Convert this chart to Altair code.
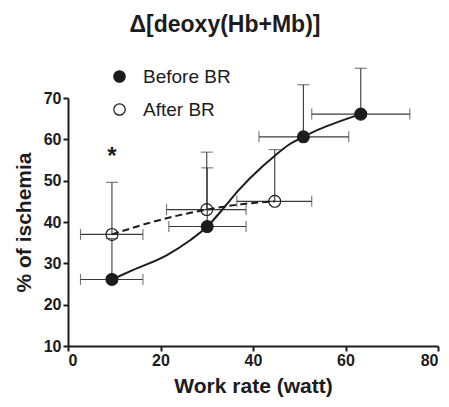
import altair as alt
import pandas as pd

# ---- data ----
groups = ["Before BR", "After BR"]

before_x = [9.5, 30.1, 50.9, 63.3]
before_y = [26.1, 38.9, 60.6, 66.1]
before_xlo = [2.7, 21.8, 41.3, 52.7]
before_xhi = [16.2, 38.5, 60.7, 73.9]
before_yhi = [36.0, 53.1, 73.2, 77.2]

after_x = [9.5, 30.0, 44.7]
after_y = [37.0, 43.0, 45.0]
after_xlo = [2.7, 21.3, 36.5]
after_xhi = [16.2, 38.5, 52.7]
after_yhi = [49.6, 56.9, 57.5]

# fitted curves
fit_before_x = [9.5, 14.1, 21.4, 26.4, 30.1, 33.3, 36.9, 41.9, 44.8, 47.5, 50.9, 54.0, 57.4, 63.3]
fit_before_y = [26.1, 28.4, 32.0, 35.6, 38.9, 42.9, 47.7, 53.3, 56.1, 58.5, 60.6, 62.3, 63.8, 66.1]
fit_after_x = [9.5, 19.9, 30.0, 37.5, 44.7]
fit_after_y = [37.0, 40.5, 43.0, 44.3, 45.0]

star_x = [9.5]
star_y = [56.9]
star_text = ["*"]

FONT = "Liberation Sans"
INK = "#1c1c1c"
BAR = "#3a3a3a"

pts = pd.DataFrame({
    "x": before_x + after_x,
    "y": before_y + after_y,
    "xlo": before_xlo + after_xlo,
    "xhi": before_xhi + after_xhi,
    "yhi": before_yhi + after_yhi,
    "group": [groups[0]] * len(before_x) + [groups[1]] * len(after_x),
})
fit_b = pd.DataFrame({"x": fit_before_x, "y": fit_before_y})
fit_a = pd.DataFrame({"x": fit_after_x, "y": fit_after_y})
star = pd.DataFrame({"x": star_x, "y": star_y, "t": star_text})

xs = alt.Scale(domain=[0, 80], nice=False, zero=False)
ys = alt.Scale(domain=[10, 70], nice=False, zero=False)

X = alt.X("x:Q", scale=xs, title="Work rate (watt)",
          axis=alt.Axis(values=[0, 20, 40, 60, 80], titlePadding=7, labelPadding=1))
Y = alt.Y("y:Q", scale=ys, title="% of ischemia",
          axis=alt.Axis(values=[10, 20, 30, 40, 50, 60, 70], titlePadding=9, labelPadding=2))

base = alt.Chart(pts)

vbar = base.mark_rule(color=BAR, strokeWidth=1.1, clip=False).encode(
    x=X, y=Y, y2="yhi:Q")
hbar = base.mark_rule(color=BAR, strokeWidth=1.1, clip=False).encode(
    x=alt.X("xlo:Q", scale=xs), x2="xhi:Q", y=alt.Y("y:Q", scale=ys))
cap_lo = base.mark_tick(color=BAR, thickness=1.1, size=11, orient="vertical", clip=False).encode(
    x=alt.X("xlo:Q", scale=xs), y=alt.Y("y:Q", scale=ys))
cap_hi = base.mark_tick(color=BAR, thickness=1.1, size=11, orient="vertical", clip=False).encode(
    x=alt.X("xhi:Q", scale=xs), y=alt.Y("y:Q", scale=ys))
cap_top = base.mark_tick(color=BAR, thickness=1.1, size=12, orient="horizontal", clip=False).encode(
    x=alt.X("x:Q", scale=xs), y=alt.Y("yhi:Q", scale=ys))

line_b = alt.Chart(fit_b).mark_line(color=INK, strokeWidth=2, interpolate="monotone").encode(
    x=alt.X("x:Q", scale=xs), y=alt.Y("y:Q", scale=ys))
line_a = alt.Chart(fit_a).mark_line(color=INK, strokeWidth=2, strokeDash=[7, 4],
                                    interpolate="monotone").encode(
    x=alt.X("x:Q", scale=xs), y=alt.Y("y:Q", scale=ys))

points = base.mark_point(shape="circle", filled=True, size=140, stroke=INK,
                         strokeWidth=1.2, opacity=1).encode(
    x=alt.X("x:Q", scale=xs), y=alt.Y("y:Q", scale=ys),
    fill=alt.Fill("group:N",
                  scale=alt.Scale(domain=groups, range=[INK, "transparent"]),
                  legend=alt.Legend(title=None, orient="none", legendX=42, legendY=-31,
                                    symbolSize=130, symbolStrokeColor=INK,
                                    symbolStrokeWidth=1.2, labelFontSize=19,
                                    labelFont=FONT, labelColor=INK, labelOffset=14,
                                    rowPadding=13, symbolType="circle")),
)

stars = alt.Chart(star).mark_text(fontSize=24, font=FONT, fontWeight="bold", color=INK,
                                  baseline="middle", dy=5).encode(
    x=alt.X("x:Q", scale=xs), y=alt.Y("y:Q", scale=ys), text="t:N")

chart = alt.layer(vbar, hbar, cap_lo, cap_hi, cap_top, line_a, line_b, points, stars).properties(
    width=370, height=248,
    title=alt.TitleParams(text="Δ[deoxy(Hb+Mb)]", font=FONT, fontSize=23, fontWeight="bold",
                          color=INK, anchor="middle", dx=-28, offset=30),
    autosize=alt.AutoSizeParams(type="none"),
    padding={"left": 60, "top": 90, "right": 3, "bottom": 53},
).configure_view(stroke=None).configure_axis(
    grid=False, domainColor=INK, domainWidth=2, tickColor=INK, tickWidth=2, tickSize=5,
    labelFont=FONT, labelFontSize=16, labelFontWeight="bold", labelColor=INK,
    titleFont=FONT, titleFontSize=21, titleFontWeight="bold", titleColor=INK,
)

chart.save("out.html", embed_options={"renderer": "svg", "actions": False})
